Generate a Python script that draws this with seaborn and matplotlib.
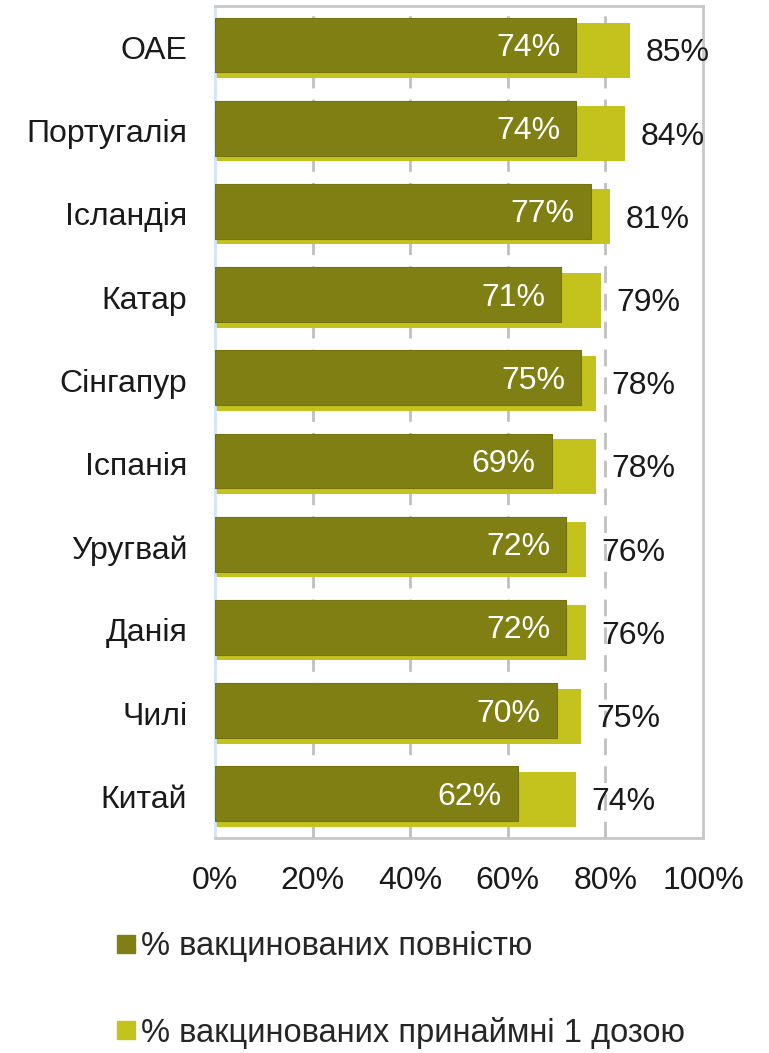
import matplotlib
matplotlib.use("Agg")
import matplotlib.pyplot as plt
import seaborn as sns
import pandas as pd
from matplotlib.lines import Line2D

countries = ["ОАЕ", "Португалія", "Ісландія", "Катар", "Сінгапур",
             "Іспанія", "Уругвай", "Данія", "Чилі", "Китай"]
fully = [74, 74, 77, 71, 75, 69, 72, 72, 70, 62]
one_dose = [85, 84, 81, 79, 78, 78, 76, 76, 75, 74]
series_names = ["% вакцинованих повністю", "% вакцинованих принаймні 1 дозою"]

dark = "#807f13"
light = "#c4c31d"

sns.set_theme(style="white")
plt.rcParams["font.family"] = ["Liberation Sans", "DejaVu Sans"]

df = pd.DataFrame({"country": countries, "fully": fully, "one": one_dose})

fig = plt.figure(figsize=(7.69, 10.53), dpi=100)
ax = fig.add_axes([0.2796, 0.2042, 0.6346, 0.7901])

# light bars first, then dark on top
sns.barplot(data=df, x="one", y="country", orient="h", color=light,
            saturation=1, width=0.66, ax=ax, linewidth=0)
n_light = len(ax.patches)
sns.barplot(data=df, x="fully", y="country", orient="h", color=dark,
            saturation=1, width=0.66, ax=ax, linewidth=0.8, edgecolor="#74730f")

for i, p in enumerate(ax.patches):
    if i < n_light:
        p.set_y(p.get_y() + 0.035)
        p.set_zorder(2)
    else:
        p.set_y(p.get_y() - 0.031)
        p.set_zorder(3)

for i in range(len(countries)):
    ax.text(fully[i] - 3.3, i + 0.005, f"{fully[i]}%", color="white",
            ha="right", va="center", fontsize=23, zorder=4)
    ax.text(one_dose[i] + 3.2, i + 0.07, f"{one_dose[i]}%", color="#1a1a1a",
            ha="left", va="center", fontsize=23, zorder=4)

ax.set_xlim(0, 100)
ax.set_ylim(len(countries) - 0.5, -0.5)
ax.set_xticks([0, 20, 40, 60, 80, 100])
ax.set_xticklabels([f"{t}%" for t in [0, 20, 40, 60, 80, 100]])
ax.set_xlabel("")
ax.set_ylabel("")
ax.tick_params(axis="both", length=0, labelsize=23, colors="#1a1a1a")
ax.tick_params(axis="y", pad=20)
ax.tick_params(axis="x", pad=20)

for x in [20, 40, 60, 80]:
    ax.axvline(x, color="#c0c0c0", linestyle=(0, (6, 4)), linewidth=2, zorder=0.5)

for side in ["top", "right", "bottom"]:
    ax.spines[side].set_color("#c8c8c8")
    ax.spines[side].set_linewidth(2)
ax.spines["left"].set_color("#cfe6f7")
ax.spines["left"].set_linewidth(2)

handles = [Line2D([], [], marker="s", linestyle="", markersize=13, color=dark),
           Line2D([], [], marker="s", linestyle="", markersize=13, color=light)]
fig.legend(handles, series_names, loc="upper left",
           bbox_to_anchor=(0.135, 0.128), frameon=False, fontsize=23.5,
           handlelength=0.55, handletextpad=0.2, labelspacing=1.67,
           borderaxespad=0)

fig.savefig("out.png", dpi=100)
